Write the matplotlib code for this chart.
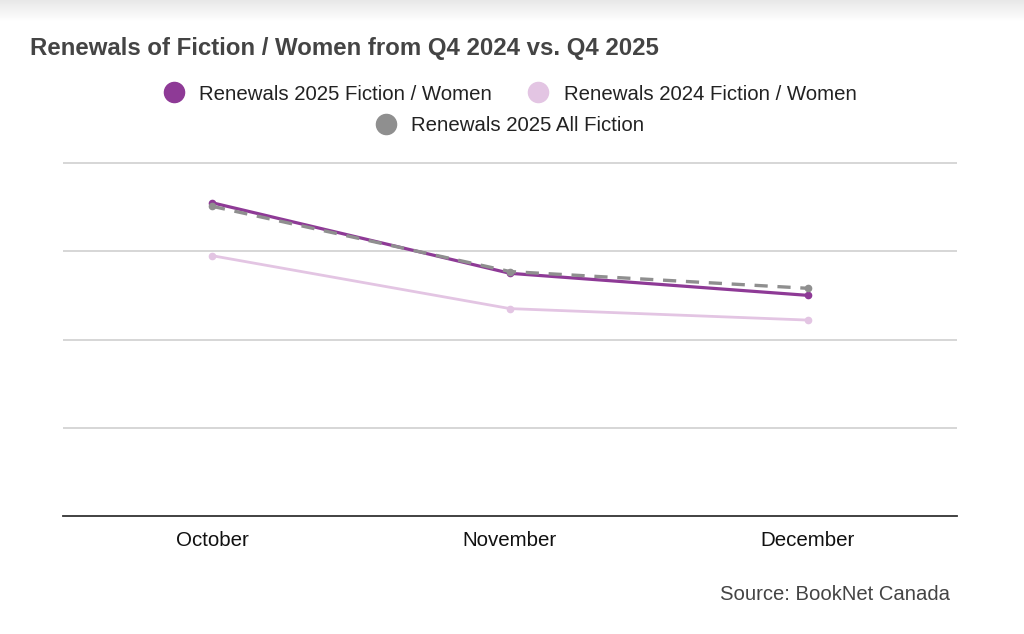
import matplotlib
matplotlib.use("Agg")
import matplotlib.pyplot as plt
import numpy as np
from matplotlib.lines import Line2D

plt.rcParams['font.family'] = ['Liberation Sans', 'DejaVu Sans']
plt.rcParams['lines.scale_dashes'] = False

months = ["October", "November", "December"]
women_2025 = [3.55, 2.75, 2.50]
women_2024 = [2.95, 2.35, 2.22]
all_2025 = [3.51, 2.77, 2.58]
series_names = ["Renewals 2025 Fiction / Women", "Renewals 2024 Fiction / Women",
                "Renewals 2025 All Fiction"]

W, H = 1024, 634
fig = plt.figure(figsize=(W / 100, H / 100), dpi=100)

# top shadow
sh = fig.add_axes([0, 1 - 22 / H, 1, 22 / H])
grad = np.linspace(0.91, 1.0, 50).reshape(-1, 1)
sh.imshow(np.repeat(grad, 2, axis=1), cmap='gray', vmin=0, vmax=1, aspect='auto')
sh.axis('off')

left, right = 63 / W, 957 / W
bottom = 1 - 516 / H
ymax = 4.01
top_px = 516 - 88.25 * ymax
ax = fig.add_axes([left, bottom, right - left, (516 - top_px) / H])

x = np.arange(len(months))
c1, c2, c3 = "#8e3a96", "#e3c5e3", "#8f8f8f"
ax.plot(x, women_2025, color=c1, lw=2.3, marker='o', ms=4.5, zorder=3)
ax.plot(x, women_2024, color=c2, lw=2.0, marker='o', ms=4.5, zorder=2)
ax.plot(x, all_2025, color=c3, lw=2.4, marker='o', ms=4.5, dashes=(9.5, 7), zorder=4)

ax.set_xlim(-0.5, 2.5)
ax.set_ylim(0, ymax)
ax.set_yticks([1, 2, 3, 4])
ax.set_yticklabels([])
ax.tick_params(axis='y', length=0)
ax.grid(axis='y', color='#cccccc', lw=1.1)
ax.set_axisbelow(True)
for s in ['top', 'right', 'left']:
    ax.spines[s].set_visible(False)
ax.spines['bottom'].set_color('#333333')
ax.spines['bottom'].set_linewidth(1.3)
ax.set_xticks(x)
ax.set_xticklabels(months, fontsize=14.8, color='#111111')
ax.tick_params(axis='x', length=0, pad=11)

fig.text(30 / W, 1 - 48 / H, "Renewals of Fiction / Women from Q4 2024 vs. Q4 2025",
         fontsize=17.3, fontweight='bold', color='#444444', va='center', ha='left')

def handle(c):
    return Line2D([], [], marker='o', color='none', markerfacecolor=c,
                  markeredgecolor=c, markersize=14.5)

fs = 14.7
leg1 = fig.legend([handle(c1), handle(c2)], series_names[:2], ncol=2,
                  loc='center', bbox_to_anchor=(510 / W, 1 - 94 / H),
                  frameon=False, fontsize=fs, handletextpad=0.75, columnspacing=1.75,
                  handlelength=1.0)
for t in leg1.get_texts():
    t.set_color('#222222')
leg2 = fig.legend([handle(c3)], series_names[2:], loc='center',
                  bbox_to_anchor=(510 / W, 1 - 126 / H), frameon=False, fontsize=fs,
                  handletextpad=0.75, handlelength=1.0)
for t in leg2.get_texts():
    t.set_color('#222222')

fig.text(950 / W, 1 - 595 / H, "Source: BookNet Canada", fontsize=14.6,
         color='#444444', ha='right', va='center')

fig.savefig("out.png", dpi=100, facecolor='white')
